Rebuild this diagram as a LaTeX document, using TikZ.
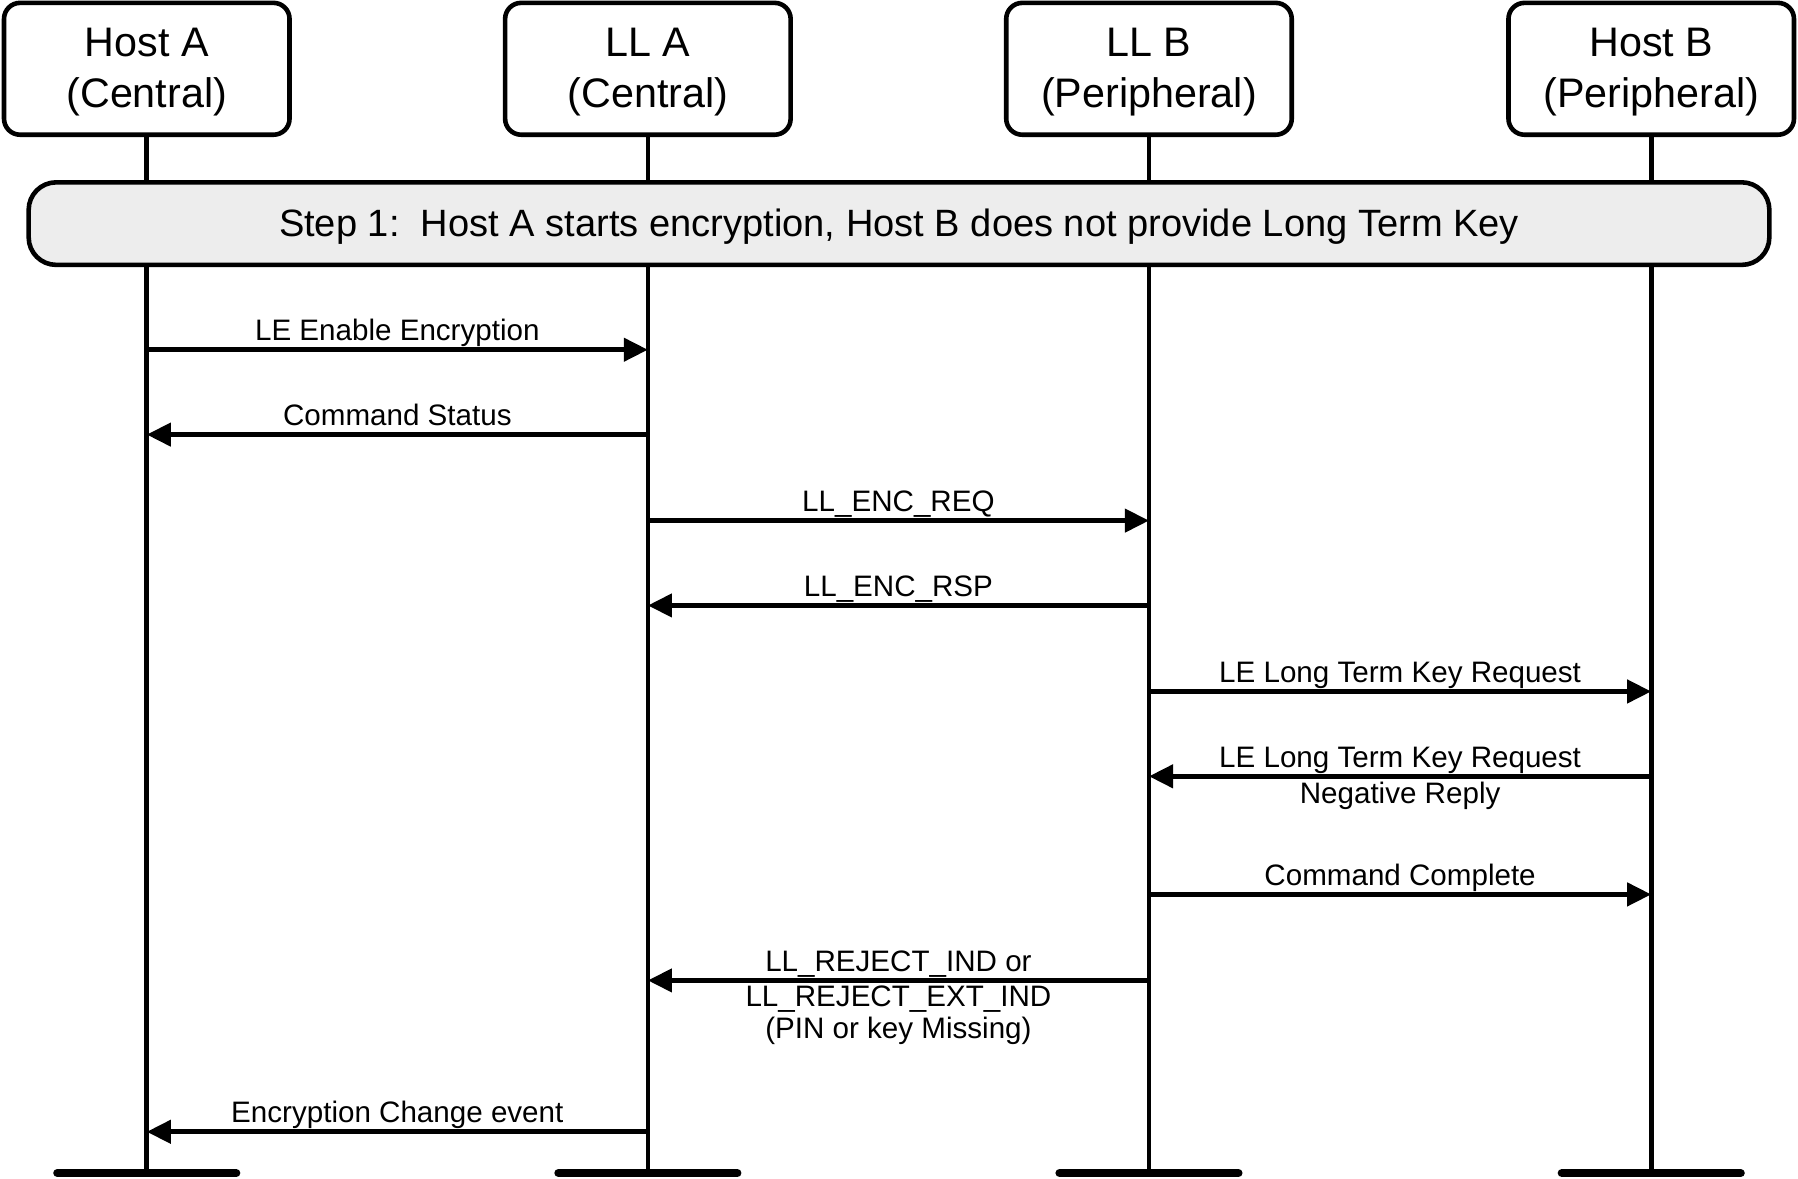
\documentclass[tikz,border=0pt]{standalone}
\usepackage{fontspec}
\setmainfont{Liberation Sans}
\usetikzlibrary{arrows.meta}

\begin{document}
\begin{tikzpicture}[x=0.5pt,y=-0.5pt,
  actor/.style={draw,line width=2pt,rounded corners=7pt,minimum width=124.5pt,
    minimum height=57.5pt},
  actortext/.style={align=center,font=\fontsize{18}{22}\selectfont},
  phasebar/.style={draw,line width=2pt,fill=gray!14,rounded corners=12pt,
    minimum width=759pt,minimum height=36pt,text height=15pt,text depth=3.5pt,
    font=\fontsize{16.6}{20}\selectfont},
  life/.style={line width=2pt},
  msg/.style={line width=2pt,-{Triangle[length=10.5pt,width=10pt]}},
  lbl/.style={font=\fontsize{12.9}{14}\selectfont,inner sep=1.5pt,align=center,midway},
  over/.style={lbl,above,inner ysep=0pt,text depth=3pt},
  under/.style={lbl,below}]
 \useasboundingbox (0,0) rectangle (1568,1028);
 % actors
 \node[actor] (hostA) at (128,60) {};
 \node[actor] (llA) at (565,60) {};
 \node[actor] (llB) at (1002,60) {};
 \node[actor] (hostB) at (1440,60) {};
 \node[actortext] at ([yshift=-1.5pt]hostA) {Host A\\(Central)};
 \node[actortext] at ([yshift=-1.5pt]llA) {LL A\\(Central)};
 \node[actortext] at ([yshift=-1.5pt]llB) {LL B\\(Peripheral)};
 \node[actortext] at ([yshift=-1.5pt]hostB) {Host B\\(Peripheral)};
 \coordinate (end) at (0,1023);
 % lifelines and feet
 \foreach \a in {hostA,llA,llB,hostB}{
   \draw[life] (\a.south) -- (\a |- end);
   \draw[line width=3.6pt,line cap=round] ([xshift=-39pt]\a |- end) -- ([xshift=39pt]\a |- end);
 }
 \node[phasebar] (step1) at (784,195)
  {Step 1:\ \ Host A starts encryption, Host B does not provide Long Term Key};
 % message rows
 \coordinate (r1) at (0,305);
 \coordinate (r2) at (0,379);
 \coordinate (r3) at (0,454);
 \coordinate (r4) at (0,528);
 \coordinate (r5) at (0,603);
 \coordinate (r6) at (0,677);
 \coordinate (r7) at (0,780);
 \coordinate (r8) at (0,855);
 \coordinate (r9) at (0,987);
 \draw[msg] (hostA |- r1) -- (llA |- r1) node[over] {LE Enable Encryption};
 \draw[msg] (llA |- r2) -- (hostA |- r2) node[over] {Command Status};
 \draw[msg] (llA |- r3) -- (llB |- r3) node[over] {LL\_ENC\_REQ};
 \draw[msg] (llB |- r4) -- (llA |- r4) node[over] {LL\_ENC\_RSP};
 \draw[msg] (llB |- r5) -- (hostB |- r5) node[over] {LE Long Term Key Request};
 \draw[msg] (hostB |- r6) -- (llB |- r6)
  node[over] {LE Long Term Key Request}
  node[under] {Negative Reply};
 \draw[msg] (llB |- r7) -- (hostB |- r7) node[over] {Command Complete};
 \draw[msg] (llB |- r8) -- (llA |- r8)
  node[over] {LL\_REJECT\_IND or}
  node[under] {LL\_REJECT\_EXT\_IND\\(PIN or key Missing)};
 \draw[msg] (llA |- r9) -- (hostA |- r9) node[over] {Encryption Change event};
\end{tikzpicture}
\end{document}
